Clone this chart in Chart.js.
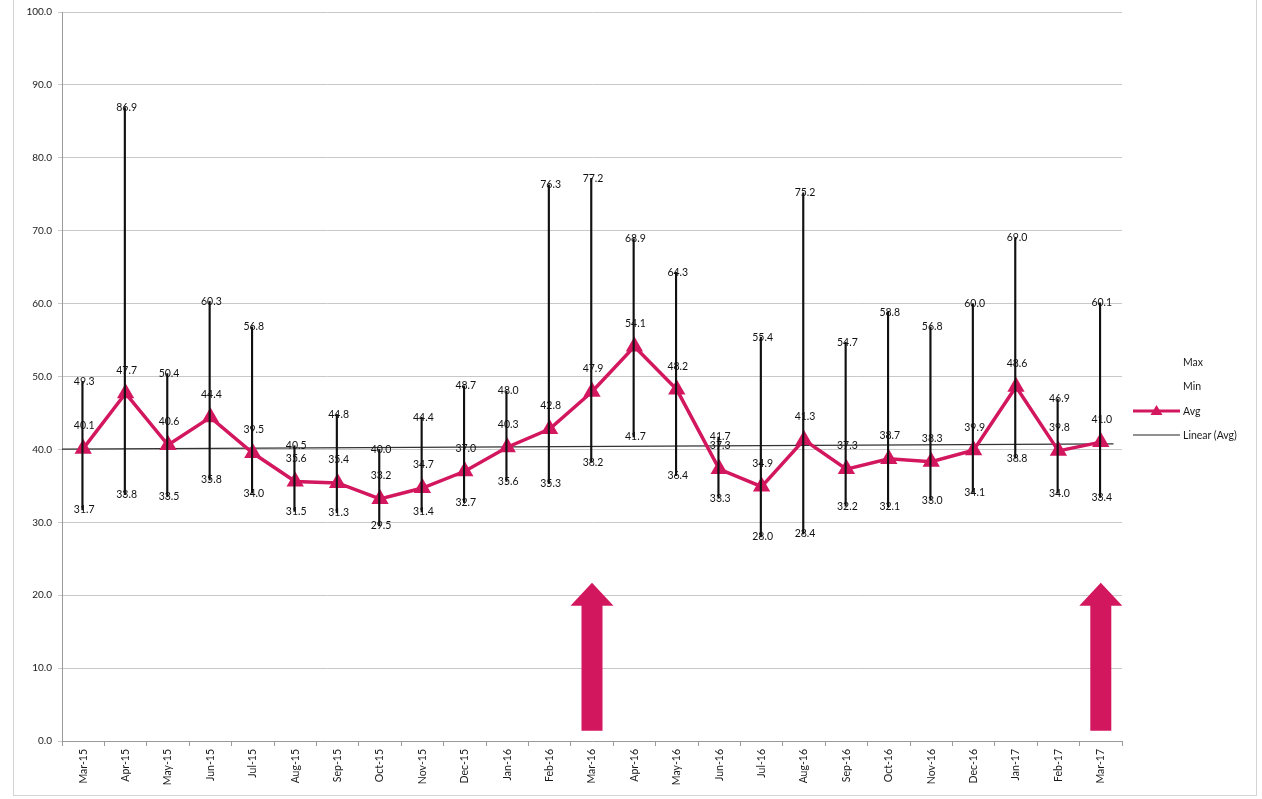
<!DOCTYPE html>
<html>
<head>
<meta charset="utf-8">
<script src="https://cdn.jsdelivr.net/npm/chart.js@4/dist/chart.umd.min.js"></script>
<style>
	html, body { margin: 0; padding: 0; background: #fff; }
	#wrap { position: relative; width: 1262px; height: 799px; }
	#frame { position: absolute; left: 13px; top: -2px; width: 1244px; height: 798px; border: 1px solid #d4d4d4; box-sizing: border-box; pointer-events: none; }
	#legend { position: absolute; left: 1133px; top: 350px; font: 10.5px Lato, sans-serif; color: #1a1a1a; }
	#legend .item { height: 24.3px; display: flex; align-items: center; }
	#legend svg { width: 47px; height: 20px; margin-right: 3px; }
</style>
</head>
<body>
<div id="wrap">
	<canvas id="hilo_chart" width="1262" height="799"></canvas>
	<div id="frame"></div>
	<div id="legend">
		<div class="item"><svg></svg>Max</div>
		<div class="item"><svg></svg>Min</div>
		<div class="item"><svg viewBox="0 0 47 20"><line x1="0" y1="10" x2="47" y2="10" stroke="#d3175f" stroke-width="3"/><polygon points="23.5,4 17.5,14 29.5,14" fill="#d3175f"/></svg>Avg</div>
		<div class="item"><svg viewBox="0 0 47 20"><line x1="0" y1="10" x2="47" y2="10" stroke="#222" stroke-width="1"/></svg>Linear (Avg)</div>
	</div>
</div>
<script>
const months = ['Mar-15', 'Apr-15', 'May-15', 'Jun-15', 'Jul-15', 'Aug-15', 'Sep-15', 'Oct-15', 'Nov-15', 'Dec-15', 'Jan-16', 'Feb-16',
	'Mar-16', 'Apr-16', 'May-16', 'Jun-16', 'Jul-16', 'Aug-16', 'Sep-16', 'Oct-16', 'Nov-16', 'Dec-16', 'Jan-17', 'Feb-17', 'Mar-17'];
const maxVals = [49.3, 86.9, 50.4, 60.3, 56.8, 40.5, 44.8, 40.0, 44.4, 48.7, 48.0, 76.3,
	77.2, 68.9, 64.3, 41.7, 55.4, 75.2, 54.7, 58.8, 56.8, 60.0, 69.0, 46.9, 60.1];
const avgVals = [40.1, 47.7, 40.6, 44.4, 39.5, 35.6, 35.4, 33.2, 34.7, 37.0, 40.3, 42.8,
	47.9, 54.1, 48.2, 37.3, 34.9, 41.3, 37.3, 38.7, 38.3, 39.9, 48.6, 39.8, 41.0];
const minVals = [31.7, 33.8, 33.5, 35.8, 34.0, 31.5, 31.3, 29.5, 31.4, 32.7, 35.6, 35.3,
	38.2, 41.7, 36.4, 33.3, 28.0, 28.4, 32.2, 32.1, 33.0, 34.1, 38.8, 34.0, 33.4];
// trend line ends (left edge, right edge)
const trendEnds = [40.05, 40.75];
const arrowMonths = ['Mar-16', 'Mar-17'];
const yTicks = [0, 10, 20, 30, 40, 50, 60, 70, 80, 90, 100];

const pink = '#d3175f';
const labelFont = '10.5px Lato, sans-serif';

const overlays = {
	id: 'overlays',
	beforeDatasetsDraw(chart) {
		const ctx = chart.ctx;
		const x = chart.scales.x;
		const y = chart.scales.y;
		ctx.save();
		ctx.fillStyle = pink;
		arrowMonths.forEach(m => {
			const cx = x.getPixelForValue(months.indexOf(m));
			const tip = y.getPixelForValue(21.7);
			const base = y.getPixelForValue(1.4);
			const neck = tip + 23;
			ctx.beginPath();
			ctx.moveTo(cx, tip);
			ctx.lineTo(cx + 21.5, neck);
			ctx.lineTo(cx + 10.5, neck);
			ctx.lineTo(cx + 10.5, base);
			ctx.lineTo(cx - 10.5, base);
			ctx.lineTo(cx - 10.5, neck);
			ctx.lineTo(cx - 21.5, neck);
			ctx.closePath();
			ctx.fill();
		});
		ctx.restore();
	},
	afterDatasetsDraw(chart) {
		const ctx = chart.ctx;
		const x = chart.scales.x;
		const y = chart.scales.y;
		ctx.save();
		ctx.font = labelFont;
		ctx.fillStyle = '#111';
		ctx.textAlign = 'center';
		ctx.textBaseline = 'middle';
		months.forEach((m, i) => {
			const px = x.getPixelForValue(i);
			ctx.fillText(maxVals[i].toFixed(1), px + 1, y.getPixelForValue(maxVals[i]));
			ctx.fillText(minVals[i].toFixed(1), px + 1, y.getPixelForValue(minVals[i]));
			ctx.fillText(avgVals[i].toFixed(1), px + 1, y.getPixelForValue(avgVals[i]) - 23);
		});
		ctx.restore();
	}
};

const ctx = document.getElementById('hilo_chart').getContext('2d');
const hiloChart = new Chart(ctx, {
	type: 'bar',
	data: {
		labels: months,
		datasets: [
			{
				type: 'bar',
				label: 'High-Low',
				data: months.map((m, i) => [minVals[i], maxVals[i]]),
				backgroundColor: '#111',
				barThickness: 1.5,
				order: 0
			},
			{
				type: 'line',
				label: 'Avg',
				data: avgVals,
				borderColor: pink,
				backgroundColor: pink,
				borderWidth: 3.5,
				pointStyle: 'triangle',
				pointRadius: 10,
				pointHoverRadius: 10,
				pointBorderWidth: 0,
				tension: 0,
				order: 1
			},
			{
				type: 'line',
				label: 'Linear (Avg)',
				xAxisID: 'xt',
				data: [{x: -0.5, y: trendEnds[0]}, {x: 24.3, y: trendEnds[1]}],
				borderColor: '#333',
				borderWidth: 1.2,
				pointRadius: 0,
				order: 2
			}
		]
	},
	options: {
		responsive: false,
		animation: false,
		devicePixelRatio: 1,
		layout: {
			padding: {top: 12, right: 140, left: 0, bottom: 0}
		},
		plugins: {
			legend: {display: false},
			tooltip: {enabled: false}
		},
		scales: {
			x: {
				offset: true,
				grid: {
					display: true,
					drawOnChartArea: false,
					offset: true,
					tickLength: 5,
					color: '#9a9a9a'
				},
				border: {color: '#9a9a9a'},
				ticks: {
					minRotation: 90,
					maxRotation: 90,
					autoSkip: false,
					padding: 3,
					color: '#1a1a1a',
					font: {family: 'Lato', size: 10.5}
				},
				afterFit(scale) {
					scale.height = 58;
				}
			},
			xt: {
				type: 'linear',
				display: false,
				offset: false,
				min: -0.5,
				max: 24.5
			},
			y: {
				min: 0,
				max: 100,
				afterBuildTicks(scale) {
					scale.ticks = yTicks.map(v => ({value: v}));
				},
				ticks: {
					padding: 6,
					color: '#1a1a1a',
					font: {family: 'Lato', size: 10},
					callback: v => Number(v).toFixed(1)
				},
				grid: {
					color: '#c8c8c8',
					tickLength: 4
				},
				border: {color: '#9a9a9a'},
				afterFit(scale) {
					scale.width = 62;
				}
			}
		}
	},
	plugins: [overlays]
});
</script>
</body>
</html>
